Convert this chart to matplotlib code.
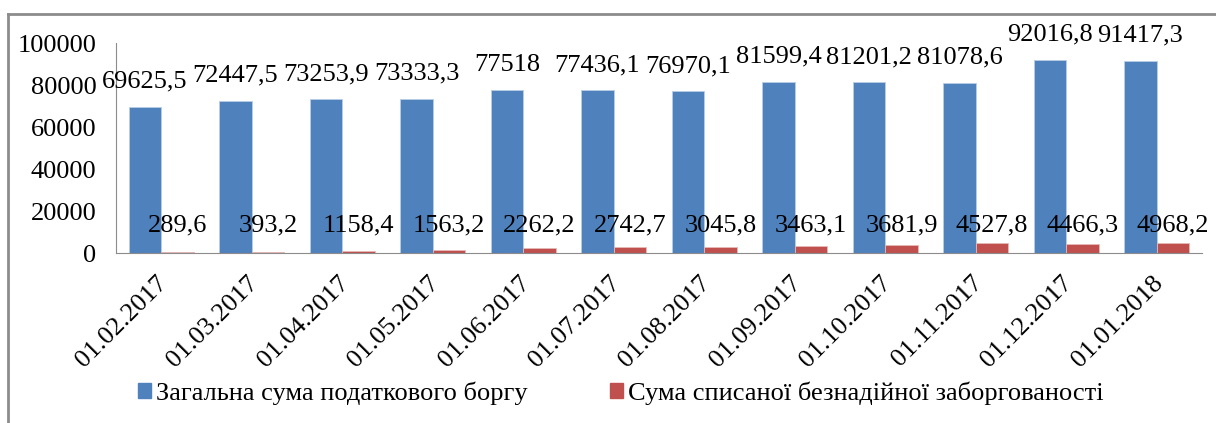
import numpy as np
import matplotlib.pyplot as plt
from matplotlib.lines import Line2D
from matplotlib.transforms import ScaledTranslation

# Дані графіка
dates = ['01.02.2017', '01.03.2017', '01.04.2017', '01.05.2017', '01.06.2017',
         '01.07.2017', '01.08.2017', '01.09.2017', '01.10.2017', '01.11.2017',
         '01.12.2017', '01.01.2018']
total_debt = [69625.5, 72447.5, 73253.9, 73333.3, 77518, 77436.1, 76970.1,
              81599.4, 81201.2, 81078.6, 92016.8, 91417.3]
written_off = [289.6, 393.2, 1158.4, 1563.2, 2262.2, 2742.7, 3045.8,
               3463.1, 3681.9, 4527.8, 4466.3, 4968.2]
total_labels = ['69625,5', '72447,5', '73253,9', '73333,3', '77518', '77436,1',
                '76970,1', '81599,4', '81201,2', '81078,6', '92016,8', '91417,3']
written_labels = ['289,6', '393,2', '1158,4', '1563,2', '2262,2', '2742,7',
                  '3045,8', '3463,1', '3681,9', '4527,8', '4466,3', '4968,2']
series_names = ['Загальна сума податкового боргу',
                'Сума списаної безнадійної заборгованості']

BLUE = '#4F81BD'
RED = '#C0504D'
FS = 19

plt.rcParams['font.family'] = ['Liberation Serif', 'DejaVu Serif']

W, H = 1216, 423
fig = plt.figure(figsize=(W / 100, H / 100), dpi=100)
ax = fig.add_axes([116 / W, 1 - 253 / H, 1086 / W, 210 / H])

x = np.arange(len(dates))
bw = 0.36
ax.bar(x - bw / 2, total_debt, bw, color=BLUE, edgecolor='#B9CDE5', linewidth=0.6)
ax.bar(x + bw / 2, written_off, bw, color=RED, edgecolor='#E6B9B8', linewidth=0.6)

for xi, v, s in zip(x, total_debt, total_labels):
    ax.text(xi - bw / 2, v + 12000, s, ha='center', va='center', fontsize=FS)
for xi, s in zip(x, written_labels):
    ax.text(xi + bw / 2, 13300, s, ha='center', va='center', fontsize=FS)

ax.set_xlim(-0.5, len(dates) - 0.5)
ax.set_ylim(0, 100000)
ax.set_yticks(range(0, 100001, 20000))
ax.tick_params(axis='y', length=0, pad=14, labelsize=FS)
ax.set_xticks(x)
ax.set_xticklabels(dates, rotation=45, ha='right', va='center',
                   rotation_mode='anchor', fontsize=FS)
ax.tick_params(axis='x', length=0, pad=19)
off = ScaledTranslation(3 / 100, 0, fig.dpi_scale_trans)
for lbl in ax.get_xticklabels():
    lbl.set_transform(lbl.get_transform() + off)

for side in ['top', 'right']:
    ax.spines[side].set_visible(False)
ax.spines['left'].set_color('#8C8C8C')
ax.spines['bottom'].set_color('#8C8C8C')
ax.spines['left'].set_linewidth(0.8)
ax.spines['bottom'].set_linewidth(0.8)

handles = [plt.Rectangle((0, 0), 1, 1, color=BLUE),
           plt.Rectangle((0, 0), 1, 1, color=RED)]
fig.legend(handles, series_names, loc='center', bbox_to_anchor=(621 / W, 1 - 393 / H),
           ncol=2, frameon=False, fontsize=FS, handlelength=0.5, handleheight=0.5,
           handletextpad=0.2, columnspacing=3.1, borderpad=0)

# рамка навколо діаграми
fig.add_artist(Line2D([8 / W, 1], [1 - 14 / H, 1 - 14 / H], color='#8C8C8C', lw=2,
                      transform=fig.transFigure))
fig.add_artist(Line2D([8 / W, 8 / W], [0, 1 - 14 / H], color='#8C8C8C', lw=2,
                      transform=fig.transFigure))

fig.savefig('out.png', dpi=100)
